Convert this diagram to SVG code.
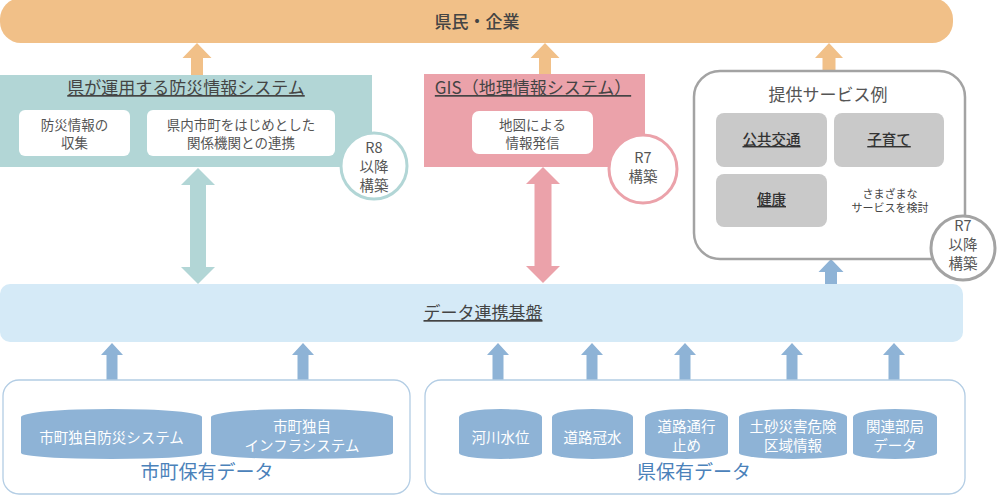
<svg xmlns="http://www.w3.org/2000/svg" width="1000" height="496" viewBox="0 0 1000 496">
<style>
text{font-family:"Noto Sans CJK JP","Noto Sans",sans-serif;text-anchor:middle;}
.dk{fill:#444;}
.t17{font-size:17px;}
.t13{font-size:13.5px;fill:#555;}
.t14{font-size:14.5px;fill:#555;}
.ul{text-decoration:underline;}
.cyl{fill:#8eb3d6;}
.cylt{font-size:14.5px;fill:#fff;}
.blue{fill:#8eb3d6;}
.org{fill:#f1c088;}
.wbox{fill:#fff;}
.cont{fill:#fff;stroke:#b3cde4;stroke-width:1.3;}
.gbox{fill:#c9c9c9;}
.gt{font-size:14.5px;fill:#333;font-weight:500;text-decoration:underline;}
.grp{font-size:19px;fill:#4b82ba;}
</style>

<g id="top-bar">
<rect x="0" y="-2" width="953" height="45" rx="21" fill="#f1c088"/>
<text x="477" y="28" class="t17 dk" style="font-weight:500">県民・企業</text>
</g>

<g id="data-bar">
<rect x="0" y="284" width="963" height="58" rx="10" fill="#d5eaf7"/>
<text x="483" y="319" class="t17 ul" fill="#444">データ連携基盤</text>
</g>

<g id="connectors">
<path class="org" d="M197 43 L211.5 58 L203 58 L203 75 L191 75 L191 58 L182.5 58 Z"/>
<path class="org" d="M545 43 L559.5 58 L551 58 L551 74 L539 74 L539 58 L530.5 58 Z"/>
<path class="org" d="M829 43 L843 58 L835.5 58 L835.5 71 L822.5 71 L822.5 58 L815 58 Z"/>
<path fill="#b2d6d6" d="M198 168 L215 185 L206 185 L206 267 L215 267 L198 284 L181 267 L190 267 L190 185 L181 185 Z"/>
<path fill="#eba2aa" d="M543 167 L560 184 L551.5 184 L551.5 266 L560 266 L543 283 L526 266 L534.5 266 L534.5 184 L526 184 Z"/>
<path class="blue" d="M831 259 L843.5 272 L837 272 L837 284 L825 284 L825 272 L818.5 272 Z"/>
<path class="blue" d="M112 343 L123 355 L117.5 355 L117.5 411 L106.5 411 L106.5 355 L101 355 Z"/>
<path class="blue" d="M303 343 L314 355 L308.5 355 L308.5 411 L297.5 411 L297.5 355 L292 355 Z"/>
<path class="blue" d="M498 343 L509 355 L503.5 355 L503.5 412 L492.5 412 L492.5 355 L487 355 Z"/>
<path class="blue" d="M592 343 L603 355 L597.5 355 L597.5 412 L586.5 412 L586.5 355 L581 355 Z"/>
<path class="blue" d="M685 343 L696 355 L690.5 355 L690.5 412 L679.5 412 L679.5 355 L674 355 Z"/>
<path class="blue" d="M792 343 L803 355 L797.5 355 L797.5 412 L786.5 412 L786.5 355 L781 355 Z"/>
<path class="blue" d="M894 343 L905 355 L899.5 355 L899.5 412 L888.5 412 L888.5 355 L883 355 Z"/>
</g>

<g id="bousai-system">
<rect x="0" y="75" width="372" height="92" fill="#b2d6d6"/>
<text x="186" y="94" class="t17 ul" fill="#444">県が運用する防災情報システム</text>
<rect class="wbox" x="19" y="110" width="111" height="46" rx="6"/>
<text class="t13"><tspan x="74.5" y="130">防災情報の</tspan><tspan x="74.5" y="148">収集</tspan></text>
<rect class="wbox" x="147" y="110" width="188" height="46" rx="6"/>
<text class="t13"><tspan x="241" y="130">県内市町をはじめとした</tspan><tspan x="241" y="148">関係機関との連携</tspan></text>
</g>

<g id="badge-r8">
<circle cx="374" cy="166" r="33" fill="#fff" stroke="#b2d6d6" stroke-width="3"/>
<text class="t14"><tspan x="374" y="153">R8</tspan><tspan x="374" y="172">以降</tspan><tspan x="374" y="191">構築</tspan></text>
</g>

<g id="gis">
<rect x="424" y="74" width="221" height="93" fill="#eba2aa"/>
<text x="533" y="94" class="t17 ul" fill="#444">GIS（地理情報システム）</text>
<rect class="wbox" x="472" y="111" width="121" height="43" rx="7"/>
<text class="t13"><tspan x="532.5" y="130">地図による</tspan><tspan x="532.5" y="148">情報発信</tspan></text>
</g>

<g id="badge-r7-gis">
<circle cx="643" cy="169" r="34" fill="#fff" stroke="#eba2aa" stroke-width="3"/>
<text class="t14"><tspan x="643" y="163">R7</tspan><tspan x="643" y="182">構築</tspan></text>
</g>

<g id="services">
<rect x="694" y="71" width="271" height="188" rx="26" fill="#fff" stroke="#a3a3a3" stroke-width="2.5"/>
<text x="828" y="101" class="t17" fill="#555">提供サービス例</text>
<rect class="gbox" x="716" y="113" width="111" height="54" rx="8"/>
<text x="771.5" y="145" class="gt">公共交通</text>
<rect class="gbox" x="834" y="113" width="110" height="54" rx="8"/>
<text x="889" y="145" class="gt">子育て</text>
<rect class="gbox" x="716" y="174" width="111" height="53" rx="8"/>
<text x="771.5" y="205" class="gt">健康</text>
<text style="font-size:11px;fill:#444"><tspan x="890" y="197.5">さまざまな</tspan><tspan x="890" y="212">サービスを検討</tspan></text>
</g>

<g id="badge-r7-services">
<circle cx="963" cy="248" r="32" fill="#fff" stroke="#a3a3a3" stroke-width="3"/>
<text class="t14"><tspan x="963" y="231">R7</tspan><tspan x="963" y="250">以降</tspan><tspan x="963" y="269">構築</tspan></text>
</g>

<g id="city-data">
<rect class="cont" x="3" y="380" width="407" height="114" rx="16"/>
<text x="207" y="479" class="grp">市町保有データ</text>
</g>

<g id="city-bousai">
<path class="cyl" d="M21 417 A90.5 8 0 0 1 202 417 L202 453 A90.5 6 0 0 1 21 453 Z"/>
<text x="111.5" y="443" class="cylt">市町独自防災システム</text>
</g>

<g id="city-infra">
<path class="cyl" d="M211 417 A91 8 0 0 1 393 417 L393 453 A91 6 0 0 1 211 453 Z"/>
<text class="cylt"><tspan x="302" y="432">市町独自</tspan><tspan x="302" y="451">インフラシステム</tspan></text>
</g>

<g id="pref-data">
<rect class="cont" x="425" y="380" width="540" height="114" rx="16"/>
<text x="694" y="479" class="grp">県保有データ</text>
</g>

<g id="river">
<path class="cyl" d="M459 417 A41.5 8 0 0 1 542 417 L542 453 A41.5 6 0 0 1 459 453 Z"/>
<text x="500.5" y="443" class="cylt">河川水位</text>
</g>

<g id="road-flood">
<path class="cyl" d="M552 417 A40.5 8 0 0 1 633 417 L633 453 A40.5 6 0 0 1 552 453 Z"/>
<text x="592.5" y="443" class="cylt">道路冠水</text>
</g>

<g id="road-closure">
<path class="cyl" d="M645 417 A41.5 8 0 0 1 728 417 L728 453 A41.5 6 0 0 1 645 453 Z"/>
<text class="cylt"><tspan x="686.5" y="432">道路通行</tspan><tspan x="686.5" y="451">止め</tspan></text>
</g>

<g id="landslide">
<path class="cyl" d="M739 417 A54 8 0 0 1 847 417 L847 453 A54 6 0 0 1 739 453 Z"/>
<text class="cylt"><tspan x="793" y="432">土砂災害危険</tspan><tspan x="793" y="451">区域情報</tspan></text>
</g>

<g id="dept-data">
<path class="cyl" d="M853 417 A42 8 0 0 1 937 417 L937 453 A42 6 0 0 1 853 453 Z"/>
<text class="cylt"><tspan x="895" y="432">関連部局</tspan><tspan x="895" y="451">データ</tspan></text>
</g>
</svg>
